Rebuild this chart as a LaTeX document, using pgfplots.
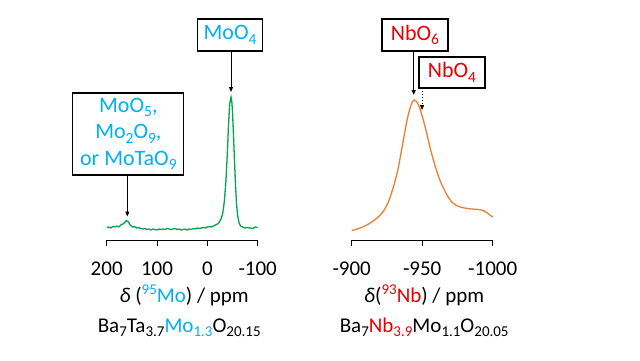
\documentclass[border=0pt]{standalone}
\usepackage{pgfplots}
\pgfplotsset{compat=1.18}
\usetikzlibrary{arrows.meta}
\usepackage{fontspec}
\setmainfont{Carlito}
\definecolor{mo}{RGB}{0,176,240}
\definecolor{nb}{RGB}{232,0,0}
\definecolor{grn}{RGB}{0,166,81}
\definecolor{org}{RGB}{237,125,49}
\newcommand{\sub}[1]{\raisebox{-0.2em}{\fontsize{15.5}{15.5}\selectfont #1}}
\newcommand{\subf}[1]{\raisebox{-0.2em}{\fontsize{15}{15}\selectfont #1}}
\newcommand{\sups}[1]{\raisebox{0.36em}{\fontsize{15}{15}\selectfont #1}}
\pgfplotsset{
  nmr/.style={scale only axis, axis x line*=bottom, axis y line=none,
    x dir=reverse, tick align=outside, major tick length=6pt,
    ymin=0, ymax=150, height=150pt, clip=false, anchor=south west,
    axis line style={line width=1pt, black},
    xtick style={black, line width=1pt},
    xticklabel style={anchor=base, yshift=-29pt, font=\fontsize{21}{25}\selectfont},
    minor tick num=0}
}
\tikzset{
  box/.style={draw=black, line width=1.2pt, fill=white, align=center, inner sep=2pt,
    font=\fontsize{22}{26.5}\selectfont},
  arr/.style={-{Triangle[length=5pt,width=4pt]}, line width=1pt}
}
\begin{document}
\begin{tikzpicture}[font=\fontsize{21}{25}\selectfont]
\useasboundingbox (0,0) rectangle (640pt,360pt);
\begin{axis}[nmr, at={(106.7pt,120pt)}, width=151pt,
  xmin=-100, xmax=200, xtick={200,100,0,-100}, xticklabels={200,100,0,-100}]
\addplot[grn, line width=1.3pt] coordinates {
(200,12.5)(196,13)(192,12)(188,13.5)(184,13)(180,14)(176,13)(172,15)(168,16)
(164,17.5)(161,19.5)(157,18)(153,15)(149,13)(145,13.5)(141,12)(137,12.5)
(133,11.5)(128,11)(124,11.5)(120,10.5)(116,11)(112,10)(108,11)(104,10.5)
(100,10)(96,11)(92,10.5)(88,11)(84,10.5)(80,11.5)(76,11)(72,10.5)(68,11)
(64,11.5)(60,10.5)(56,11)(52,10)(48,10.5)(44,11)(40,10)(36,11)(32,10.5)
(28,11.5)(24,11)(20,12)(16,11.5)(12,12)(8,12.5)(4,12)(0,13)(-4,13.5)(-8,13)
(-12,14)(-16,15)(-20,16)(-24,18)(-28,22)(-31,28)(-34,40)(-37,60)(-40,90)
(-42,115)(-44,133)(-45.5,140)(-47,143)(-48.5,139)(-50,128)(-52,104)(-54,78)
(-56,54)(-58,36)(-60,25)(-63,17)(-66,14)(-70,13)(-75,12)(-80,12.5)(-85,12)
(-90,11.5)(-95,13)(-100,12.5)};
\node[box, minimum width=111pt, minimum height=82pt] at (axis cs:157,106)
  {\color{mo}MoO\sub{5},\\\color{mo}Mo\sub{2}O\sub{9},\\\color{mo}or MoTaO\sub{9}};
\draw[arr] (axis cs:159,65) -- (axis cs:159,23.5);
\node[box, minimum width=65pt, minimum height=32pt] at (axis cs:-45,205)
  {\color{mo}MoO\sub{4}};
\draw[arr] (axis cs:-47,189) -- (axis cs:-47,148);
\node[anchor=base] at ([yshift=-62pt, xshift=2pt]rel axis cs:0.5,0)
  {\textit{δ} ({\color{mo}\sups{95}Mo}) / ppm};
\node[anchor=base] at ([yshift=-92pt, xshift=-3pt]rel axis cs:0.5,0)
  {Ba\subf{7}Ta\subf{3.7}{\color{mo}Mo\subf{1.3}}O\subf{20.15}};
\end{axis}
\begin{axis}[nmr, at={(351.7pt,120pt)}, width=141pt,
  xmin=-1000, xmax=-900, xtick={-900,-950,-1000}, xticklabels={-900,-950,-1000}]
\addplot[org, line width=1.3pt, smooth] coordinates {
(-900,9.3)(-906,12)(-912,16)(-918,22)(-922,28)(-926,38)(-930,55)(-933,72)
(-936,95)(-939,118)(-941,130)(-943,138)(-944.5,140)(-946,138.5)(-948,133)
(-950,124)(-953,108)(-956,90)(-959,75)(-962,62)(-965,52)(-968,44)(-971,38)
(-975,34)(-980,32)(-985,31)(-990,30.5)(-994,29)(-997,26)(-1000,23)};
\node[box, minimum width=66pt, minimum height=32pt] at (axis cs:-944.9,205)
  {\color{nb}NbO\sub{6}};
\draw[arr] (axis cs:-944,189) -- (axis cs:-944,145);
\node[box, minimum width=66pt, minimum height=31pt] at (axis cs:-971.1,167.5)
  {\color{nb}NbO\sub{4}};
\draw[arr, dotted] (axis cs:-949.9,152) -- (axis cs:-949.9,130);
\node[anchor=base] at ([yshift=-62pt, xshift=2pt]rel axis cs:0.5,0)
  {\textit{δ}({\color{nb}\sups{93}Nb}) / ppm};
\node[anchor=base] at ([yshift=-92pt, xshift=2pt]rel axis cs:0.5,0)
  {Ba\subf{7}{\color{nb}Nb\subf{3.9}}Mo\subf{1.1}O\subf{20.05}};
\end{axis}
\end{tikzpicture}
\end{document}
